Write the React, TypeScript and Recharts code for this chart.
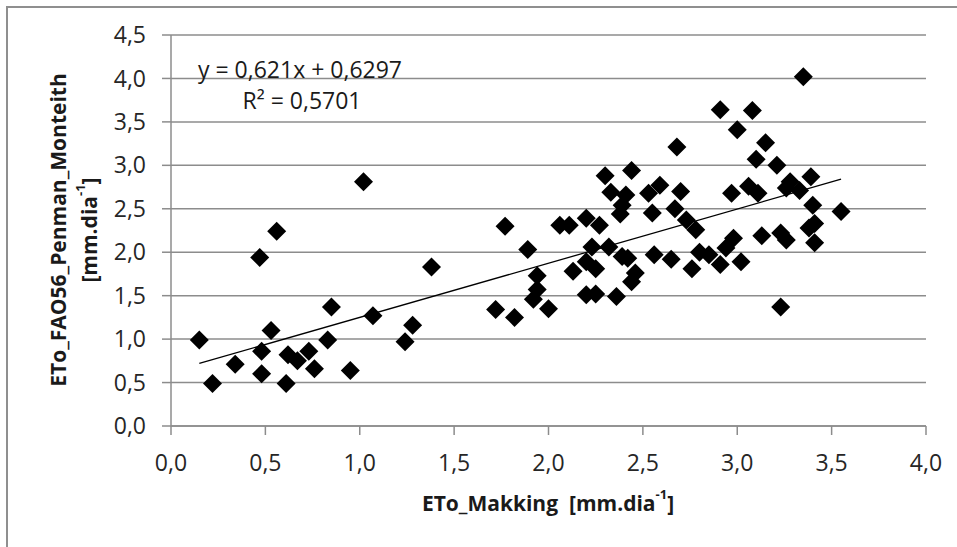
import React from "react";
import { ScatterChart, Scatter, XAxis, YAxis, CartesianGrid } from "recharts";

// ETo values (mm/dia)
const makkingEto = [
	0.15, 0.22, 0.34, 0.47, 0.48, 0.48, 0.53, 0.56, 0.61, 0.62, 0.67, 0.73, 0.76,
	0.83, 0.85, 0.95, 1.02, 1.07, 1.24, 1.28, 1.38, 1.72, 1.77, 1.82, 1.89, 1.92,
	1.94, 1.94, 2.0, 2.06, 2.11, 2.13, 2.2, 2.2, 2.2, 2.23, 2.25, 2.25, 2.27, 2.3,
	2.32, 2.33, 2.36, 2.38, 2.39, 2.39, 2.41, 2.42, 2.44, 2.44, 2.46, 2.53, 2.55,
	2.56, 2.59, 2.65, 2.67, 2.68, 2.7, 2.73, 2.76, 2.78, 2.8, 2.85, 2.91, 2.91,
	2.94, 2.97, 2.98, 3.0, 3.02, 3.06, 3.08, 3.1, 3.11, 3.13, 3.15, 3.21, 3.23,
	3.23, 3.26, 3.26, 3.28, 3.33, 3.35, 3.38, 3.39, 3.4, 3.41, 3.41, 3.55,
];
const penmanEto = [
	0.99, 0.49, 0.71, 1.94, 0.86, 0.6, 1.1, 2.24, 0.49, 0.82, 0.75, 0.86, 0.66,
	0.99, 1.37, 0.64, 2.81, 1.27, 0.97, 1.16, 1.83, 1.34, 2.3, 1.25, 2.03, 1.46,
	1.73, 1.57, 1.35, 2.31, 2.31, 1.78, 2.39, 1.89, 1.51, 2.06, 1.81, 1.52, 2.31,
	2.88, 2.06, 2.69, 1.49, 2.44, 2.54, 1.95, 2.66, 1.93, 2.94, 1.66, 1.76, 2.68,
	2.45, 1.97, 2.77, 1.92, 2.5, 3.21, 2.7, 2.37, 1.81, 2.26, 2.0, 1.97, 3.64, 1.86,
	2.05, 2.68, 2.16, 3.41, 1.89, 2.76, 3.63, 3.07, 2.68, 2.19, 3.26, 3.0, 2.22,
	1.37, 2.74, 2.14, 2.81, 2.71, 4.02, 2.28, 2.87, 2.54, 2.33, 2.11, 2.47,
];

// linear trend line end points
const trendX = [0.15, 3.55];
const trendY = [0.72, 2.84];

const xTicks = [0, 0.5, 1, 1.5, 2, 2.5, 3, 3.5, 4];
const yTicks = [0, 0.5, 1, 1.5, 2, 2.5, 3, 3.5, 4, 4.5];

const equation = "y = 0,621x + 0,6297";
const rSquared = "0,5701";

const points = makkingEto.map((x, i) => ({ x, y: penmanEto[i] }));
const trend = trendX.map((x, i) => ({ x, y: trendY[i] }));

const font = "'Open Sans', sans-serif";
const gray = "#8c8c8c";
const fmt = (v: number) => v.toFixed(1).replace(".", ",");

const Diamond = (props: any) => {
	const { cx, cy } = props;
	const r = 9.5;
	return (
		<path
			d={`M${cx},${cy - r}L${cx + r},${cy}L${cx},${cy + r}L${cx - r},${cy}Z`}
			fill="#000"
		/>
	);
};

const Unit = () => (
	<>
		[mm.dia
		<tspan fontSize={13} dy={-9}>
			-1
		</tspan>
		<tspan dy={9}>]</tspan>
	</>
);

const Texts = () => (
	<g fontFamily={font} fill="#1a1a1a">
		<text x={300} y={69} fontSize={23} textAnchor="middle" dominantBaseline="central">
			{equation}
		</text>
		<text x={302} y={100} fontSize={23} textAnchor="middle" dominantBaseline="central">
			R² = {rSquared}
		</text>
		<text
			x={548}
			y={503}
			fontSize={21}
			fontWeight="bold"
			textAnchor="middle"
			dominantBaseline="central"
		>
			ETo_Makking{"\u00a0\u00a0"}
			<Unit />
		</text>
		<text
			x={58}
			y={230}
			fontSize={21}
			fontWeight="bold"
			textAnchor="middle"
			dominantBaseline="central"
			transform="rotate(-90 58 230)"
		>
			ETo_FAO56_Penman_Monteith
		</text>
		<text
			x={89}
			y={230}
			fontSize={21}
			fontWeight="bold"
			textAnchor="middle"
			dominantBaseline="central"
			transform="rotate(-90 89 230)"
		>
			<Unit />
		</text>
	</g>
);

export default function App() {
	return (
		<div
			style={{
				position: "absolute",
				left: 0,
				top: 0,
				width: 957,
				height: 547,
				overflow: "hidden",
				background: "#fff",
			}}
		>
			<div
				style={{
					position: "absolute",
					left: 6,
					top: 6,
					width: 957,
					height: 547,
					borderLeft: "2px solid #8f8f8f",
					borderTop: "2px solid #8f8f8f",
				}}
			/>
			<div style={{ position: "absolute", left: 0, top: 0 }}>
				<ScatterChart
					width={957}
					height={547}
					margin={{ top: 35, right: 31, left: 71, bottom: 81 }}
				>
					<CartesianGrid vertical={false} stroke={gray} strokeWidth={1.5} />
					<XAxis
						type="number"
						dataKey="x"
						domain={[0, 4]}
						ticks={xTicks}
						tickFormatter={fmt}
						height={40}
						stroke={gray}
						strokeWidth={1.5}
						tickSize={9}
						tickMargin={20}
						tick={{ fill: "#262626", fontSize: 23, fontFamily: font }}
						allowDataOverflow
					/>
					<YAxis
						type="number"
						dataKey="y"
						domain={[0, 4.5]}
						ticks={yTicks}
						tickFormatter={fmt}
						width={100}
						stroke={gray}
						strokeWidth={1.5}
						tickSize={9}
						tickMargin={16}
						tick={{ fill: "#262626", fontSize: 23, fontFamily: font }}
						allowDataOverflow
					/>
					<Scatter
						data={trend}
						line={{ stroke: "#000", strokeWidth: 1.3 }}
						shape={() => <g />}
						isAnimationActive={false}
					/>
					<Scatter data={points} shape={Diamond} isAnimationActive={false} />
					<Texts />
				</ScatterChart>
			</div>
		</div>
	);
}
